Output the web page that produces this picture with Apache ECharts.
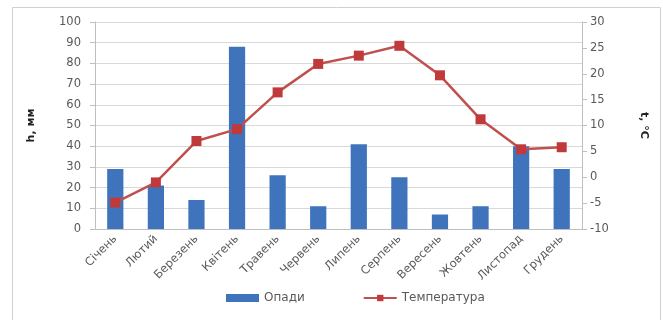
<!DOCTYPE html>
<html>
<head>
<meta charset="utf-8">
<script src="https://cdn.jsdelivr.net/npm/echarts@6/dist/echarts.min.js"></script>
<style>
  html, body { margin: 0; padding: 0; background: #fff; }
  #chart { width: 663px; height: 320px; }
</style>
</head>
<body>
<div id="chart"></div>
<script>
const months = ['Січень', 'Лютий', 'Березень', 'Квітень', 'Травень', 'Червень',
  'Липень', 'Серпень', 'Вересень', 'Жовтень', 'Листопад', 'Грудень']
const precipitation = [29, 21, 14, 88, 26, 11, 41, 25, 7, 11, 40, 29]
const temperature = [-4.9, -1.0, 7.0, 9.3, 16.4, 21.9, 23.5, 25.4, 19.7, 11.2, 5.4, 5.8]

const font = '"DejaVu Sans", Verdana, sans-serif'
const textColor = '#595959'
const lineColor = '#bfbfbf'

const chart = echarts.init(document.getElementById('chart'))
chart.setOption({
  animation: false,
  textStyle: { fontFamily: font },
  graphic: [{
    type: 'rect',
    shape: { x: 12.5, y: 7.5, width: 648, height: 330 },
    style: { fill: 'none', stroke: '#d0d0d0', lineWidth: 1 },
    silent: true
  }],
  grid: { left: 95, right: 81, top: 22, bottom: 91 },
  legend: {
    top: 287,
    left: 221,
    itemWidth: 33,
    itemHeight: 8,
    itemGap: 58,
    textStyle: { color: textColor, fontSize: 12, fontFamily: font },
    data: [
      { name: 'Опади', icon: 'rect' },
      { name: 'Температура' }
    ]
  },
  xAxis: {
    type: 'category',
    data: months,
    axisLine: { lineStyle: { color: lineColor } },
    axisTick: { length: 4, lineStyle: { color: lineColor } },
    axisLabel: { rotate: 45, color: textColor, fontSize: 11.5, fontFamily: font, margin: 8 }
  },
  yAxis: [
    {
      type: 'value',
      min: 0, max: 100, interval: 10,
      name: 'h, мм',
      nameLocation: 'middle',
      nameRotate: 90,
      nameGap: 58,
      nameTextStyle: { color: '#222', fontSize: 11, fontWeight: 'bold', fontFamily: font },
      axisLine: { show: true, lineStyle: { color: lineColor } },
      axisTick: { show: true, length: 5, lineStyle: { color: lineColor } },
      axisLabel: { color: textColor, fontSize: 11.5, fontFamily: font, margin: 14 },
      splitLine: { lineStyle: { color: '#d9d9d9' } }
    },
    {
      type: 'value',
      min: -10, max: 30, interval: 5,
      name: 't, °C',
      nameLocation: 'middle',
      nameRotate: -90,
      nameGap: 56,
      nameTextStyle: { color: '#222', fontSize: 11, fontWeight: 'bold', fontFamily: font },
      axisLine: { show: true, lineStyle: { color: lineColor } },
      axisTick: { show: true, length: 5, lineStyle: { color: lineColor } },
      axisLabel: { color: textColor, fontSize: 11.5, fontFamily: font, margin: 8 },
      splitLine: { show: false }
    }
  ],
  series: [
    {
      name: 'Опади',
      type: 'bar',
      data: precipitation,
      barWidth: '40%',
      itemStyle: { color: '#3f74bd' }
    },
    {
      name: 'Температура',
      type: 'line',
      yAxisIndex: 1,
      data: temperature,
      symbol: 'rect',
      symbolSize: 10,
      lineStyle: { color: '#c0504d', width: 2.5 },
      itemStyle: { color: '#c0393b' }
    }
  ]
})
</script>
</body>
</html>
